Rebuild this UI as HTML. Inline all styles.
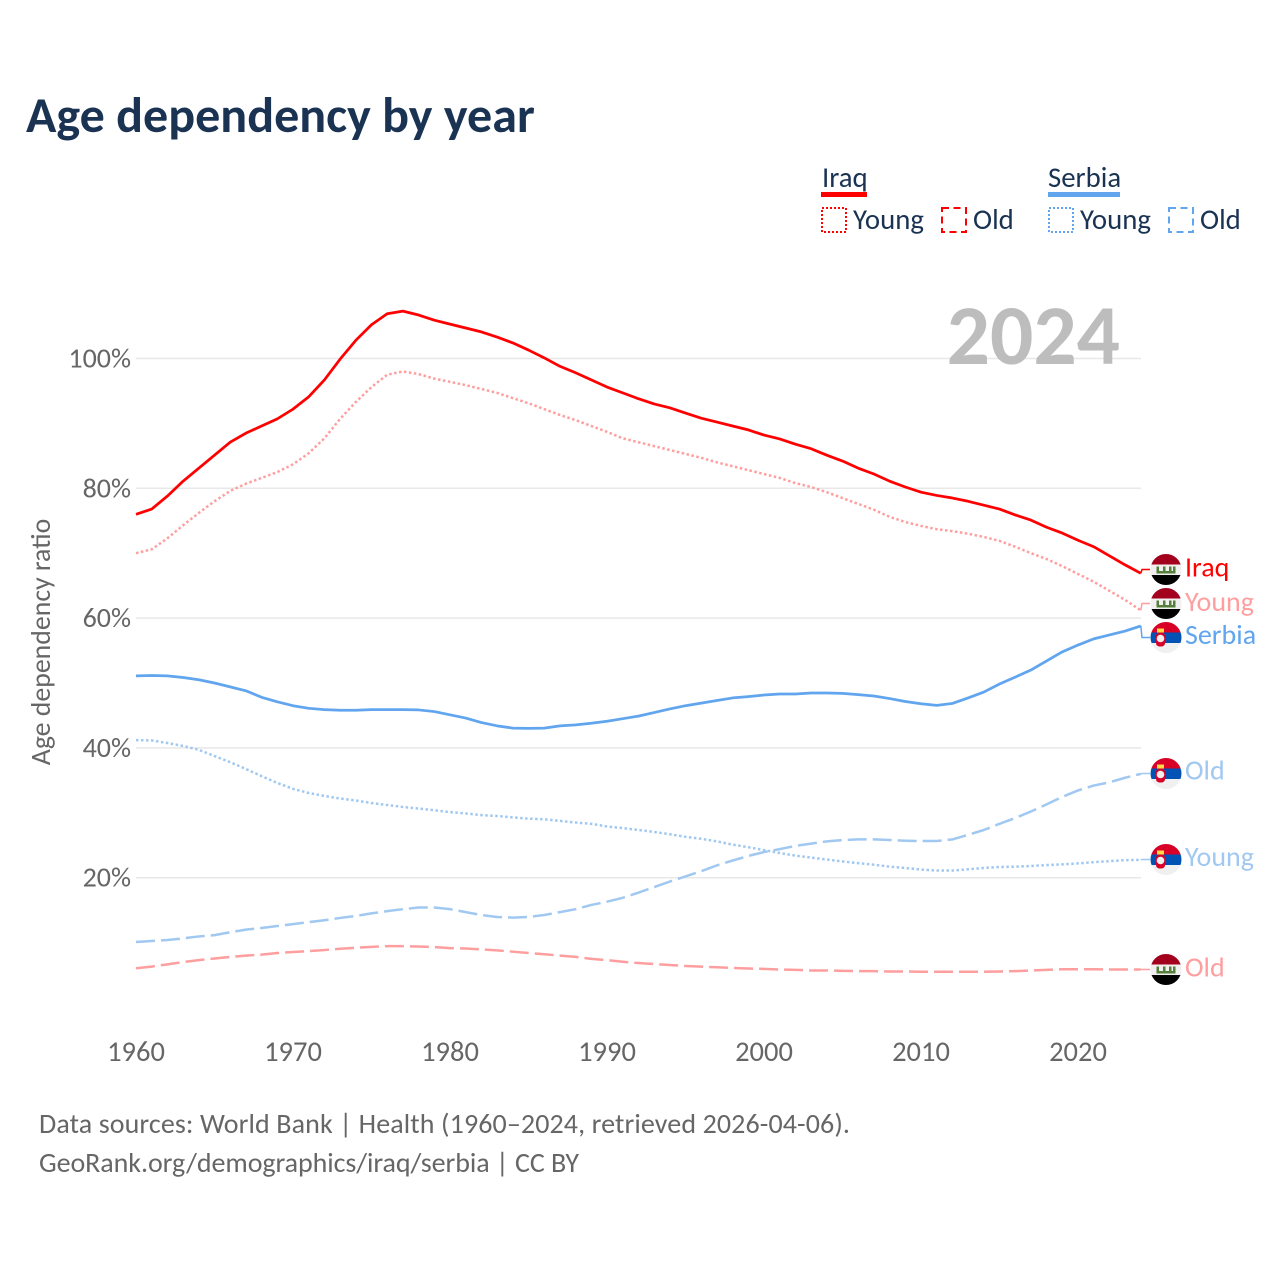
<!DOCTYPE html>
<html lang="en">
<head>
<meta charset="utf-8">
<title>Age dependency by year</title>
<style>
html,body{margin:0;padding:0;background:#fff}
svg{display:block}
text{font-family:"Carlito","Lato","Liberation Sans",sans-serif}
</style>
</head>
<body>
<svg id="chart" width="1280" height="1280" viewBox="0 0 1280 1280" xmlns="http://www.w3.org/2000/svg">
<rect width="1280" height="1280" fill="#fff"/>
<text x="26" y="132" font-size="50.1" font-weight="700" fill="#1a3353">Age dependency by year</text>

<g font-size="28.8" fill="#1a3353">
  <text x="822" y="187">Iraq</text>
  <rect x="821" y="192" width="46" height="5" fill="#ff0000"/>
  <rect x="822" y="208" width="24" height="24" fill="none" stroke="#ff0000" stroke-width="2" stroke-dasharray="2 2"/>
  <text x="853" y="229">Young</text>
  <rect x="942" y="208" width="24" height="24" fill="none" stroke="#ff0000" stroke-width="2" stroke-dasharray="7 4.5"/>
  <text x="973" y="229">Old</text>
  <text x="1048" y="187">Serbia</text>
  <rect x="1048" y="192" width="72" height="5" fill="#60a5ee"/>
  <rect x="1049" y="208" width="24" height="24" fill="none" stroke="#60a5ee" stroke-width="2" stroke-dasharray="2 2"/>
  <text x="1080" y="229">Young</text>
  <rect x="1169" y="208" width="24" height="24" fill="none" stroke="#60a5ee" stroke-width="2" stroke-dasharray="7 4.5"/>
  <text x="1200" y="229">Old</text>
</g>

<g id="grid"></g>
<text x="1120" y="364" text-anchor="end" font-size="85.5" font-weight="700" fill="#bdbdbd">2024</text>
<g id="yticks"></g>
<g id="xticks"></g>
<text transform="translate(50,642) rotate(-90)" text-anchor="middle" font-size="27.8" fill="#666">Age dependency ratio</text>
<g id="series"></g>
<g id="endlabels"></g>

<g font-size="28" fill="#666">
  <text x="39" y="1133" textLength="811">Data sources: World Bank | Health (1960–2024, retrieved 2026-04-06).</text>
  <text x="39" y="1172" textLength="540">GeoRank.org/demographics/iraq/serbia | CC BY</text>
</g>
</svg>

<script>
const startYear = 1960;
const xTickLabels = [1960, 1970, 1980, 1990, 2000, 2010, 2020];
const yTickLabels = [20, 40, 60, 80, 100];

const iraqTotal = [76.0,76.8,78.8,81.1,83.1,85.1,87.1,88.5,89.6,90.7,92.2,94.1,96.7,99.9,102.8,105.2,106.9,107.3,106.7,105.9,105.3,104.7,104.1,103.3,102.4,101.3,100.1,98.8,97.8,96.7,95.6,94.7,93.8,93.0,92.4,91.6,90.8,90.2,89.6,89.0,88.2,87.6,86.8,86.1,85.1,84.2,83.1,82.2,81.1,80.2,79.4,78.9,78.5,78.0,77.4,76.8,75.9,75.1,74.0,73.1,72.0,71.0,69.6,68.2,66.9];
const iraqYoung = [70.0,70.6,72.3,74.3,76.2,78.0,79.6,80.7,81.6,82.5,83.7,85.4,87.7,90.7,93.3,95.6,97.5,98.0,97.6,96.9,96.4,95.9,95.3,94.7,93.9,93.1,92.2,91.3,90.5,89.6,88.7,87.7,87.1,86.5,85.9,85.3,84.7,84.0,83.4,82.8,82.2,81.6,80.8,80.2,79.4,78.5,77.6,76.7,75.6,74.8,74.2,73.7,73.4,73.0,72.5,71.9,71.0,70.0,69.1,68.0,66.8,65.6,64.2,62.8,61.2];
const iraqOld = [6.05,6.3,6.65,7.0,7.3,7.55,7.8,8.0,8.15,8.4,8.55,8.7,8.85,9.05,9.2,9.35,9.45,9.45,9.4,9.3,9.15,9.1,8.95,8.8,8.6,8.4,8.2,8.0,7.8,7.5,7.3,7.05,6.85,6.7,6.55,6.4,6.3,6.2,6.1,6.0,5.95,5.85,5.8,5.7,5.7,5.65,5.6,5.6,5.55,5.55,5.5,5.5,5.5,5.5,5.5,5.55,5.6,5.7,5.8,5.9,5.9,5.9,5.85,5.85,5.85];
const serbiaTotal = [51.1,51.15,51.1,50.85,50.5,50.0,49.4,48.8,47.8,47.1,46.5,46.1,45.9,45.8,45.8,45.9,45.9,45.9,45.85,45.6,45.1,44.6,43.9,43.4,43.05,43.0,43.05,43.4,43.55,43.8,44.1,44.5,44.9,45.45,46.0,46.5,46.9,47.3,47.7,47.9,48.15,48.3,48.3,48.45,48.45,48.4,48.2,48.0,47.6,47.15,46.8,46.55,46.85,47.7,48.6,49.85,50.9,52.0,53.4,54.8,55.85,56.8,57.4,58.0,58.8];
const serbiaYoung = [41.2,41.15,40.75,40.3,39.7,38.75,37.8,36.75,35.65,34.6,33.7,33.05,32.6,32.2,31.9,31.5,31.2,30.9,30.65,30.4,30.1,29.9,29.65,29.5,29.3,29.1,29.0,28.75,28.5,28.3,27.9,27.65,27.35,27.05,26.7,26.3,26.0,25.6,25.1,24.7,24.25,23.8,23.4,23.1,22.8,22.5,22.25,22.0,21.7,21.5,21.25,21.1,21.1,21.3,21.5,21.65,21.7,21.8,21.95,22.05,22.2,22.4,22.55,22.7,22.75];
const serbiaOld = [10.1,10.25,10.4,10.65,10.95,11.15,11.6,12.0,12.25,12.55,12.85,13.15,13.45,13.8,14.1,14.5,14.85,15.15,15.4,15.4,15.15,14.7,14.25,13.95,13.85,13.95,14.25,14.7,15.15,15.8,16.3,16.9,17.7,18.55,19.4,20.2,21.0,21.9,22.65,23.35,23.95,24.4,24.9,25.25,25.6,25.8,25.9,25.9,25.8,25.7,25.65,25.65,25.9,26.6,27.35,28.3,29.2,30.2,31.3,32.45,33.45,34.2,34.7,35.4,36.0];

const NS = 'http://www.w3.org/2000/svg';
function xScale(year) { return 136 + (year - 1960) * 15.7; }
function yScale(v) { return 1007.5 - v * 6.49; }
function make(tag, attrs, parent) {
  const el = document.createElementNS(NS, tag);
  for (const k in attrs) el.setAttribute(k, attrs[k]);
  parent.appendChild(el);
  return el;
}

const gridG = document.getElementById('grid');
const yG = document.getElementById('yticks');
yTickLabels.forEach(function (t) {
  const line = make('line', {x1: 136, x2: 1141, y1: yScale(t), y2: yScale(t), stroke: '#e8e8e8', 'stroke-width': 1.5}, gridG);
  
  
  const txt = make('text', {x: 131, y: yScale(t) + 9, 'text-anchor': 'end', 'font-size': 28, fill: '#666'}, yG);
  
  
  txt.textContent = t + '%';
});

const xG = document.getElementById('xticks');
xTickLabels.forEach(function (t) {
  const txt = make('text', {x: xScale(t), y: 1061, 'text-anchor': 'middle', 'font-size': 28.5, fill: '#666'}, xG);
  
  
  txt.textContent = t;
});

const seriesG = document.getElementById('series');
const labelsG = document.getElementById('endlabels');

function drawFlag(kind, cy, parent) {
  const cx = 1166, r = 15.5;
  const g = make('g', {}, parent);
  
  
  const clipId = 'clip' + Math.round(cy);
  const defs = make('defs', {}, g);
  const cp = make('clipPath', {id: clipId}, defs);
  make('circle', {cx: cx, cy: cy, r: r}, cp);
  const body = make('g', {'clip-path': 'url(#' + clipId + ')'}, g);
  if (kind === 'iraq') {
    make('rect', {x: cx - r, y: cy - r, width: 2 * r, height: 10.5, fill: '#a2001d'}, body);
    make('rect', {x: cx - r, y: cy - 5, width: 2 * r, height: 10.5, fill: '#f0f0f0'}, body);
    make('rect', {x: cx - r, y: cy + 5.5, width: 2 * r, height: 10.5, fill: '#000'}, body);
    make('rect', {x: cx - 9.5, y: cy + 1.5, width: 19, height: 2.5, fill: '#557f3a'}, body);
    [-9.5, -3, 3, 7].forEach(function (dx) {
      make('rect', {x: cx + dx, y: cy - 3, width: 2.5, height: 5, fill: '#557f3a'}, body);
    });
  } else {
    make('rect', {x: cx - r, y: cy - r, width: 2 * r, height: 10.5, fill: '#d80027'}, body);
    make('rect', {x: cx - r, y: cy - 5, width: 2 * r, height: 10.5, fill: '#0052b4'}, body);
    make('rect', {x: cx - r, y: cy + 5.5, width: 2 * r, height: 10.5, fill: '#f0f0f0'}, body);
    make('rect', {x: cx - 10, y: cy - 5, width: 9, height: 14, rx: 3.5, fill: '#d80027'}, body);
    make('circle', {cx: cx - 5.5, cy: cy + 1, r: 3.8, fill: '#f0f0f0'}, body);
    make('rect', {x: cx - 9, y: cy - 9, width: 7, height: 4, fill: '#ffda44'}, body);
  }
}

function drawSeries(name, values, color, width, dash, flag, labelText, flagY, textY) {
  const pts = values.map(function (v, i) { return [xScale(startYear + i), yScale(v)]; });
  const attrs = {points: pts.map(function (p) { return p.join(','); }).join(' '), fill: 'none', stroke: color, 'stroke-width': width, 'stroke-linejoin': 'round'};
  if (dash) attrs['stroke-dasharray'] = dash;
  const line = make('polyline', attrs, seriesG);
  
  
  const last = pts[pts.length - 1];
  const leader = make('polyline', {points: last[0] + ',' + last[1] + ' 1142,' + flagY + ' 1150,' + flagY, fill: 'none', stroke: color, 'stroke-width': 1.5}, seriesG);
  
  
  drawFlag(flag, flagY, labelsG);
  const t = make('text', {x: 1185, y: textY, 'font-size': 28, fill: color}, labelsG);
  
  
  t.textContent = labelText;
}

const DOT = '2.5 2.5';
const DASH = '19 6';
drawSeries('iraq-young', iraqYoung, '#ff9e9e', 2.5, DOT, 'iraq', 'Young', 603.5, 611);
drawSeries('iraq-old', iraqOld, '#ff9e9e', 2.5, DASH, 'iraq', 'Old', 969.5, 976.7);
drawSeries('serbia-young', serbiaYoung, '#a0c8f1', 2.5, DOT, 'serbia', 'Young', 859.5, 866);
drawSeries('serbia-old', serbiaOld, '#a0c8f1', 2.5, DASH, 'serbia', 'Old', 773.5, 779.5);
drawSeries('serbia-total', serbiaTotal, '#60a5ee', 2.75, null, 'serbia', 'Serbia', 637.5, 644);
drawSeries('iraq-total', iraqTotal, '#ff0000', 2.75, null, 'iraq', 'Iraq', 569.5, 576.7);
</script>
</body>
</html>
